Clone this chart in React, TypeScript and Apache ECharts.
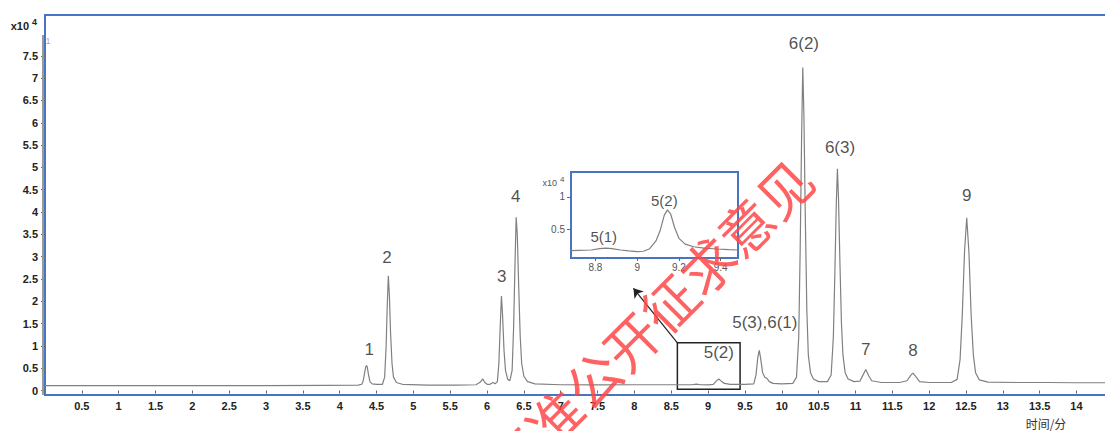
import React, { useEffect, useRef } from "react";
import * as echarts from "echarts";

// retention time (min) vs signal (x10^4)
const chromatogram: [number, number][] = [
  [0.0, 0.11], [1.0, 0.11], [2.0, 0.11], [3.0, 0.11], [3.8, 0.115],
  [4.25, 0.12], [4.3, 0.14], [4.32, 0.22], [4.34, 0.42], [4.355, 0.54], [4.365, 0.56],
  [4.375, 0.52], [4.39, 0.36], [4.41, 0.2], [4.44, 0.15], [4.5, 0.14], [4.58, 0.14],
  [4.61, 0.3], [4.63, 1.0], [4.645, 1.9], [4.66, 2.57], [4.675, 2.1], [4.69, 1.3],
  [4.71, 0.6], [4.73, 0.3], [4.77, 0.18], [4.85, 0.14], [5.2, 0.12], [5.6, 0.12],
  [5.85, 0.13], [5.91, 0.19], [5.94, 0.26], [5.97, 0.18], [6.0, 0.14], [6.04, 0.14],
  [6.08, 0.18], [6.11, 0.15], [6.14, 0.2], [6.16, 0.6], [6.18, 1.5], [6.195, 2.12],
  [6.21, 1.7], [6.23, 0.9], [6.25, 0.45], [6.28, 0.25], [6.31, 0.22], [6.34, 0.45],
  [6.36, 1.4], [6.38, 2.9], [6.395, 3.88], [6.41, 3.5], [6.43, 2.3], [6.45, 1.2],
  [6.47, 0.6], [6.5, 0.32], [6.55, 0.2], [6.65, 0.15], [7.0, 0.13], [7.5, 0.125],
  [8.0, 0.13], [8.5, 0.13], [8.78, 0.13], [8.84, 0.145], [8.9, 0.13], [9.0, 0.125],
  [9.07, 0.14], [9.11, 0.21], [9.145, 0.26], [9.18, 0.21], [9.22, 0.16], [9.3, 0.14],
  [9.5, 0.14], [9.62, 0.15], [9.65, 0.35], [9.675, 0.75], [9.695, 0.9], [9.715, 0.7],
  [9.74, 0.4], [9.77, 0.3], [9.8, 0.27], [9.83, 0.2], [9.88, 0.16], [10.0, 0.15],
  [10.15, 0.16], [10.2, 0.3], [10.23, 1.2], [10.25, 3.2], [10.27, 5.8], [10.285, 7.24],
  [10.3, 6.2], [10.32, 3.8], [10.34, 1.8], [10.36, 0.8], [10.39, 0.4], [10.43, 0.26],
  [10.5, 0.2], [10.62, 0.2], [10.67, 0.35], [10.7, 1.2], [10.72, 2.6], [10.74, 4.2],
  [10.755, 4.97], [10.77, 4.3], [10.79, 2.8], [10.81, 1.5], [10.83, 0.8], [10.86, 0.4],
  [10.9, 0.26], [10.98, 0.2], [11.06, 0.21], [11.1, 0.34], [11.14, 0.47], [11.18, 0.33],
  [11.22, 0.22], [11.35, 0.18], [11.6, 0.18], [11.7, 0.22], [11.75, 0.34], [11.78, 0.39],
  [11.82, 0.31], [11.87, 0.2], [12.0, 0.18], [12.3, 0.18], [12.38, 0.25], [12.42, 0.7],
  [12.45, 1.7], [12.48, 3.1], [12.51, 3.87], [12.54, 3.1], [12.57, 1.7], [12.6, 0.8],
  [12.63, 0.4], [12.68, 0.24], [12.8, 0.19], [13.2, 0.18], [13.6, 0.18], [14.0, 0.175],
  [15.0, 0.175], [16.3, 0.175],
];

// zoomed inset 8.68 – 9.48 min
const insetTrace: [number, number][] = [
  [8.68, 0.17], [8.72, 0.175], [8.78, 0.18], [8.82, 0.2], [8.85, 0.21], [8.88, 0.2],
  [8.92, 0.18], [8.96, 0.165], [9.0, 0.155], [9.03, 0.16], [9.06, 0.2], [9.09, 0.32],
  [9.11, 0.48], [9.13, 0.72], [9.145, 0.8], [9.16, 0.74], [9.18, 0.52], [9.2, 0.36],
  [9.23, 0.27], [9.27, 0.23], [9.32, 0.21], [9.38, 0.195], [9.44, 0.185], [9.48, 0.18],
];

// peak labels: [time, height, text]
const peakLabels: [number, number, string][] = [
  [4.4, 0.93, "1"], [4.64, 2.97, "2"], [6.2, 2.55, "3"], [6.39, 4.34, "4"],
  [9.145, 0.85, "5(2)"], [9.77, 1.52, "5(3),6(1)"], [10.3, 7.77, "6(2)"],
  [10.79, 5.44, "6(3)"], [11.14, 0.93, "7"], [11.78, 0.89, "8"], [12.51, 4.36, "9"],
];
const insetLabels: [number, number, string][] = [
  [8.84, 0.39, "5(1)"], [9.13, 0.95, "5(2)"],
];

const xTicks = [0.5, 1, 1.5, 2, 2.5, 3, 3.5, 4, 4.5, 5, 5.5, 6, 6.5, 7, 7.5, 8, 8.5, 9, 9.5, 10, 10.5, 11, 11.5, 12, 12.5, 13, 13.5, 14];
const yTicks = [0, 0.5, 1, 1.5, 2, 2.5, 3, 3.5, 4, 4.5, 5, 5.5, 6, 6.5, 7, 7.5];
const insetXTicks = [8.8, 9, 9.2, 9.4];
const insetYTicks = [0.5, 1];

// highlighted region and arrow target (data coords)
const zoomBox = { x0: 8.583, x1: 9.434, y0: 0.027, y1: 1.07 };
const arrowTip: [number, number] = [7.987, 2.29];

const watermarkChars = ["标", "准", "公", "开", "征", "求", "意", "见"];

const BLUE = "#4874C4";
const tickFont = { fontFamily: "Liberation Sans Narrow, Liberation Sans, Arial", fontWeight: "bold" as const, fontSize: 11, color: "#222" };

export default function App() {
  const ref = useRef<HTMLDivElement>(null);
  useEffect(() => {
    const chart = echarts.init(ref.current!, null, { renderer: "svg" });
    const option: any = {
      animation: false,
      backgroundColor: "#fff",
      grid: [
        { left: 45, top: 15, width: 1200, height: 380, show: true, borderColor: BLUE, borderWidth: 2, backgroundColor: "transparent" },
        { left: 571, top: 172, width: 167, height: 86, show: true, borderColor: BLUE, borderWidth: 2, backgroundColor: "#fff", z: 5 },
      ],
      xAxis: [
        {
          type: "value", gridIndex: 0, min: 0, max: 16.287,
          axisLine: { show: false }, splitLine: { show: false },
          axisTick: { show: true, length: 3, customValues: xTicks, lineStyle: { color: "#666" } },
          axisLabel: { ...tickFont, margin: 5, customValues: xTicks },
        },
        {
          type: "value", gridIndex: 1, min: 8.683, max: 9.483, z: 6,
          axisLine: { show: false }, splitLine: { show: false },
          axisTick: { show: true, length: 3, customValues: insetXTicks, lineStyle: { color: "#666" } },
          axisLabel: { fontFamily: "Liberation Sans, Arial", fontSize: 10, color: "#555", margin: 4, customValues: insetXTicks },
        },
      ],
      yAxis: [
        {
          type: "value", gridIndex: 0, min: -0.1, max: 8.415,
          axisLine: { show: false }, splitLine: { show: false },
          axisTick: { show: true, length: 4, customValues: yTicks, lineStyle: { color: "#666" } },
          axisLabel: { ...tickFont, margin: 7, customValues: yTicks },
        },
        {
          type: "value", gridIndex: 1, min: 0.056, max: 1.386, z: 6,
          axisLine: { show: false }, splitLine: { show: false },
          axisTick: { show: true, length: 4, customValues: insetYTicks, lineStyle: { color: "#666" } },
          axisLabel: { fontFamily: "Liberation Sans, Arial", fontSize: 10, color: "#555", margin: 6, customValues: insetYTicks },
        },
      ],
      series: [
        {
          type: "line", xAxisIndex: 0, yAxisIndex: 0, data: chromatogram, showSymbol: false,
          lineStyle: { color: "#808080", width: 1.2 }, z: 2, silent: true,
          markArea: {
            silent: true,
            itemStyle: { color: "rgba(0,0,0,0)", borderColor: "#222", borderWidth: 1.5 },
            data: [[{ xAxis: zoomBox.x0, yAxis: zoomBox.y0 }, { xAxis: zoomBox.x1, yAxis: zoomBox.y1 }]],
          },
          markLine: {
            silent: true, symbol: ["none", "arrow"], symbolSize: 9,
            lineStyle: { color: "#222", width: 1.2, type: "solid" }, label: { show: false },
            data: [[{ coord: [zoomBox.x0, zoomBox.y1] }, { coord: arrowTip }]],
          },
        },
        {
          type: "scatter", xAxisIndex: 0, yAxisIndex: 0, data: peakLabels, symbolSize: 0, silent: true, z: 3,
          label: {
            show: true, position: "inside", formatter: (p: any) => p.value[2],
            fontFamily: "Liberation Sans, Arial", fontSize: 17, color: "#1f1f1f",
          },
        },
        {
          type: "line", xAxisIndex: 1, yAxisIndex: 1, data: insetTrace, showSymbol: false,
          lineStyle: { color: "#808080", width: 1.2 }, z: 7, silent: true,
        },
        {
          type: "scatter", xAxisIndex: 1, yAxisIndex: 1, data: insetLabels, symbolSize: 0, silent: true, z: 8,
          label: {
            show: true, position: "inside", formatter: (p: any) => p.value[2],
            fontFamily: "Liberation Sans, Arial", fontSize: 15, color: "#1f1f1f",
          },
        },
      ],
      graphic: [
        { type: "line", z: 1, shape: { x1: 43, y1: 35, x2: 43, y2: 395 }, style: { stroke: "#9a9a9a", lineWidth: 2 } },
        { type: "text", x: 29, y: 26, style: { text: "x10", fontFamily: "Liberation Sans Narrow, Liberation Sans, Arial", fontWeight: "bold", fontSize: 11, fill: "#222", textAlign: "right", textVerticalAlign: "middle" } },
        { type: "text", x: 32, y: 22, style: { text: "4", fontFamily: "Liberation Sans, Arial", fontWeight: "bold", fontSize: 9, fill: "#222", textAlign: "left", textVerticalAlign: "middle" } },
        { type: "text", x: 48, y: 41, style: { text: "1", fontFamily: "Liberation Sans, Arial", fontSize: 9, fill: "#aaa", textAlign: "center", textVerticalAlign: "middle" } },
        { type: "text", x: 557, y: 183, z: 10, style: { text: "x10", fontFamily: "Liberation Sans, Arial", fontSize: 9, fill: "#555", textAlign: "right", textVerticalAlign: "middle" } },
        { type: "text", x: 560, y: 179, z: 10, style: { text: "4", fontFamily: "Liberation Sans, Arial", fontSize: 8, fill: "#555", textAlign: "left", textVerticalAlign: "middle" } },
        { type: "text", x: 1046, y: 423, style: { text: "时间/分", fontFamily: "Noto Sans CJK SC", fontSize: 12, fill: "#333", textAlign: "center", textVerticalAlign: "middle" } },
        {
          type: "group", x: 649, y: 321, rotation: Math.PI / 4, z: 100, silent: true,
          children: watermarkChars.map((c, i) => ({
            type: "text", x: (i - 3.5) * 54, y: 0, z: 100,
            style: { text: c, fontFamily: "Noto Sans CJK SC", fontSize: 54, fill: "rgba(255,70,70,0.85)", textAlign: "center", textVerticalAlign: "middle" },
          })),
        },
      ],
    };
    chart.setOption(option);
    return () => chart.dispose();
  }, []);
  return <div ref={ref} style={{ position: "fixed", left: 0, top: 0, width: 1300, height: 431, background: "#fff" }} />;
}
